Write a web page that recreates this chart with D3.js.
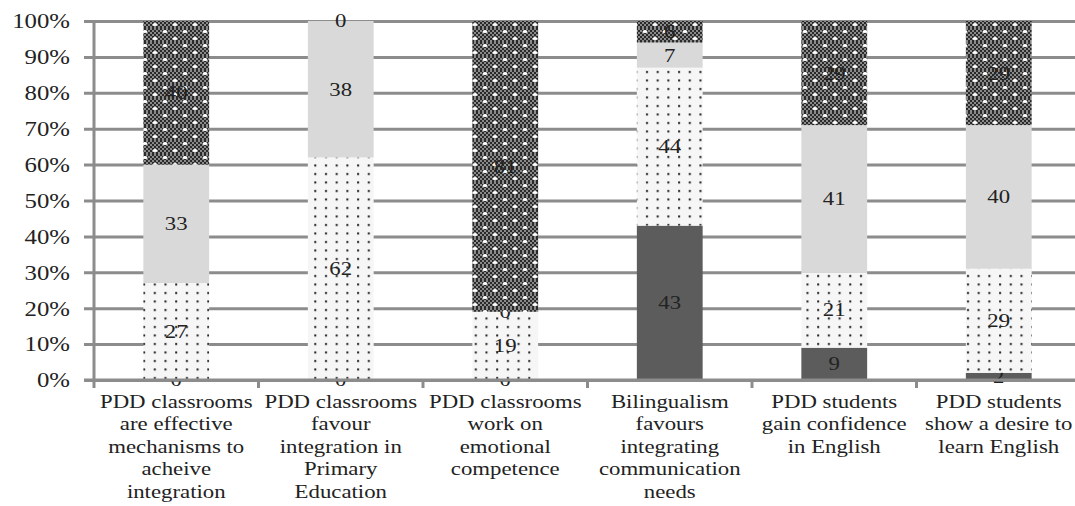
<!DOCTYPE html>
<html>
<head>
<meta charset="utf-8">
<script src="https://cdn.jsdelivr.net/npm/d3@7"></script>
<style>
  body { margin: 0; background: #fff; }
  text { font-family: "Liberation Serif", "Times New Roman", serif; fill: #222; }
</style>
</head>
<body>
<div id="chart"></div>
<script>
// categories, bottom-to-top series values (percent)
const categories = [
    ['PDD classrooms', 'are effective', 'mechanisms to', 'acheive', 'integration'],
    ['PDD classrooms', 'favour', 'integration in', 'Primary', 'Education'],
    ['PDD classrooms', 'work on', 'emotional', 'competence'],
    ['Bilingualism', 'favours', 'integrating', 'communication', 'needs'],
    ['PDD students', 'gain confidence', 'in English'],
    ['PDD students', 'show a desire to', 'learn English'],
];
const seriesNames = ['s1', 's2', 's3', 's4'];
const s1Values = [0, 0, 0, 43, 9, 2];
const s2Values = [27, 62, 19, 44, 21, 29];
const s3Values = [33, 38, 0, 7, 41, 40];
const s4Values = [40, 0, 81, 6, 29, 29];
const yTicks = [0, 10, 20, 30, 40, 50, 60, 70, 80, 90, 100];

const W = 1075, H = 506;
const margin = { left: 94, top: 21, bottom: 126 },
    plotRight = 1081,
    axisY = H - margin.bottom;
const stretch = 1.2;

const svg = d3.select('#chart').append('svg')
    .attr('width', W).attr('height', H);

// patterns
const defs = svg.append('defs');
const mesh = defs.append('pattern').attr('id', 'mesh')
    .attr('patternUnits', 'userSpaceOnUse').attr('width', 4).attr('height', 4);
mesh.append('rect').attr('width', 4).attr('height', 4).attr('fill', '#8a8a8a');
mesh.append('rect').attr('width', 2).attr('height', 2).attr('fill', '#2a2a2a');
mesh.append('rect').attr('x', 2).attr('y', 2).attr('width', 2).attr('height', 2).attr('fill', '#2a2a2a');

const darkDots = defs.append('pattern').attr('id', 'darkDots')
    .attr('patternUnits', 'userSpaceOnUse').attr('width', 20).attr('height', 14);
darkDots.append('rect').attr('width', 20).attr('height', 14).attr('fill', 'url(#mesh)');
darkDots.append('ellipse').attr('cx', 5).attr('cy', 3.5).attr('rx', 2.4).attr('ry', 1.6).attr('fill', '#fff');
darkDots.append('ellipse').attr('cx', 15).attr('cy', 10.5).attr('rx', 2.4).attr('ry', 1.6).attr('fill', '#fff');

const lightDots = defs.append('pattern').attr('id', 'lightDots')
    .attr('patternUnits', 'userSpaceOnUse').attr('width', 10.7).attr('height', 8.5);
lightDots.append('rect').attr('width', 10.7).attr('height', 8.5).attr('fill', '#f6f6f6');
lightDots.append('rect').attr('x', 4).attr('y', 3).attr('width', 2).attr('height', 2).attr('fill', '#1a1a1a');

const fills = { s1: '#5c5c5c', s2: 'url(#lightDots)', s3: '#d9d9d9', s4: 'url(#darkDots)' };

const x = d3.scaleBand()
    .domain(d3.range(categories.length))
    .range([margin.left, plotRight])
    .paddingInner(0.6)
    .paddingOuter(0.3);
const y = d3.scaleLinear().domain([0, 100]).range([axisY, margin.top]);

// gridlines + y labels
const yAxis = svg.append('g')
    .attr('transform', `translate(${margin.left - 10},0)`)
    .call(d3.axisLeft(y)
        .tickValues(yTicks)
        .tickFormat((d) => d + '%')
        .tickSizeInner(-(W - margin.left + 10))
        .tickSizeOuter(0)
        .tickPadding(14));
yAxis.select('.domain').remove();
yAxis.selectAll('line').attr('stroke', '#8c8c8c').attr('stroke-width', 3);
yAxis.selectAll('text')
    .attr('font-size', 20)
    .attr('fill', '#2a2a2a')
    .attr('dy', '0.34em')
    .attr('transform', function () {
        const tx = +d3.select(this).attr('x');
        return `translate(${tx},0) scale(1.24,1) translate(${-tx},0)`;
    });

// stacked bars
const rows = categories.map((c, i) => ({
    i, s1: s1Values[i], s2: s2Values[i], s3: s3Values[i], s4: s4Values[i],
}));
const stacked = d3.stack().keys(seriesNames)(rows);

const layers = svg.append('g').selectAll('g')
    .data(stacked).join('g')
    .attr('fill', (d) => fills[d.key]);
layers.selectAll('rect')
    .data((d) => d).join('rect')
    .attr('x', (d) => x(d.data.i))
    .attr('width', x.bandwidth())
    .attr('y', (d) => y(d[1]))
    .attr('height', (d) => y(d[0]) - y(d[1]));

// axes lines
svg.append('line')
    .attr('x1', margin.left).attr('x2', margin.left)
    .attr('y1', margin.top).attr('y2', axisY + 1.5)
    .attr('stroke', '#8c8c8c').attr('stroke-width', 3);
svg.append('line')
    .attr('x1', margin.left - 10).attr('x2', W)
    .attr('y1', axisY).attr('y2', axisY)
    .attr('stroke', '#8c8c8c').attr('stroke-width', 3);
const bounds = d3.range(categories.length + 1).map((k) => margin.left + k * x.step());
svg.append('g').selectAll('line')
    .data(bounds).join('line')
    .attr('x1', (d) => d).attr('x2', (d) => d)
    .attr('y1', axisY).attr('y2', axisY + 8)
    .attr('stroke', '#8c8c8c').attr('stroke-width', 3);

// data labels
layers.selectAll('text')
    .data((d) => d.map((v) => ({ v, key: d.key }))).join('text')
    .attr('text-anchor', 'middle')
    .attr('dy', '0.34em')
    .attr('font-size', 19)
    .attr('transform', (d) =>
        `translate(${x(d.v.data.i) + x.bandwidth() / 2},${y((d.v[0] + d.v[1]) / 2)}) scale(${stretch},1)`)
    .text((d) => d.v.data[d.key]);

// category labels
svg.append('g').selectAll('text')
    .data(categories).join('text')
    .attr('text-anchor', 'middle')
    .attr('font-size', 19)
    .attr('transform', (d, i) => `translate(${x(i) + x.bandwidth() / 2},${axisY + 28}) scale(${stretch},1)`)
    .selectAll('tspan')
    .data((d) => d).join('tspan')
    .attr('x', 0)
    .attr('dy', (d, k) => (k === 0 ? 0 : 22.4))
    .text((d) => d);
</script>
</body>
</html>
